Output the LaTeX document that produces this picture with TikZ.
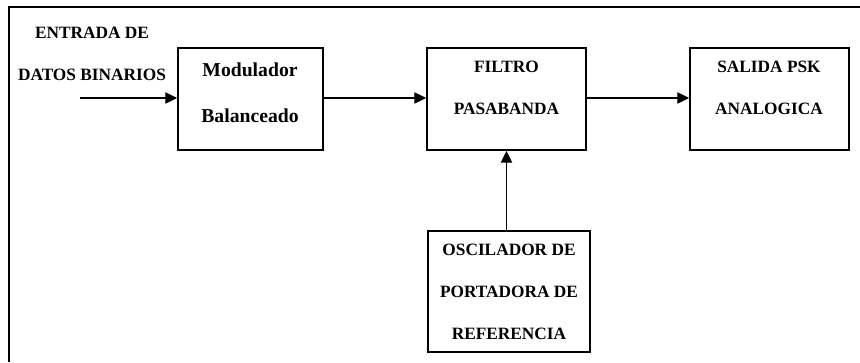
\documentclass[tikz,border=0pt]{standalone}
\usepackage{fontspec}
\setmainfont{Liberation Serif}
\usepackage{tikz}
\usetikzlibrary{positioning, calc, arrows.meta}
\tikzstyle{Arrow} = [
%Create custom arrow style:
line width = 0.9pt,
-{Triangle[length=8.5pt, width=8pt]}
]

\begin{document}
\begin{tikzpicture}[x = 0.025cm, y = -0.025cm,
			block/.style = {rectangle, line width = 1pt, draw, minimum width = #1, minimum height = 2.55cm},
			capstext/.style = {align = center, font = \fontsize{12.3}{29.9}\selectfont\bfseries},
			lowtext/.style = {align = center, font = \fontsize{14}{32.7}\selectfont\bfseries},
		]
		\useasboundingbox (0,0) rectangle (860,362);
		% marco
		\coordinate(FR) at (860,7);
		\coordinate(FL) at (9,7);
		\coordinate(FB) at (9,362);
		\draw[line width = 1pt](FR)--(FL)--(FB);

		\node[block = 3.625cm](MOD) at (250.5,99){};
		\node[block = 3.975cm](FIL) at (506.5,99){};
		\node[block = 3.975cm](SAL) at (769.5,99){};
		\node[block = 4.05cm, minimum height = 3.025cm](OSC) at (509,291.5){};

		\node[capstext](ENT) at (92,54){ENTRADA DE\\DATOS BINARIOS};
		\node[lowtext](MODT) at (250,93){Modulador\\Balanceado};
		\node[capstext](FILT) at (506.5,88){FILTRO\\PASABANDA};
		\node[capstext](SALT) at (769,88){SALIDA PSK\\ANALOGICA};
		\node[capstext](OSCT) at (509,292){OSCILADOR DE\\PORTADORA DE\\REFERENCIA};

		\coordinate(IN) at (80,98);
		\draw[Arrow](IN)--(IN -| MOD.west);
		\draw[Arrow](MOD.east |- IN)--(FIL.west |- IN);
		\draw[Arrow](FIL.east |- IN)--(SAL.west |- IN);
		\draw[Arrow](OSC.north -| FIL.south)--(FIL.south);
	\end{tikzpicture}
\end{document}
